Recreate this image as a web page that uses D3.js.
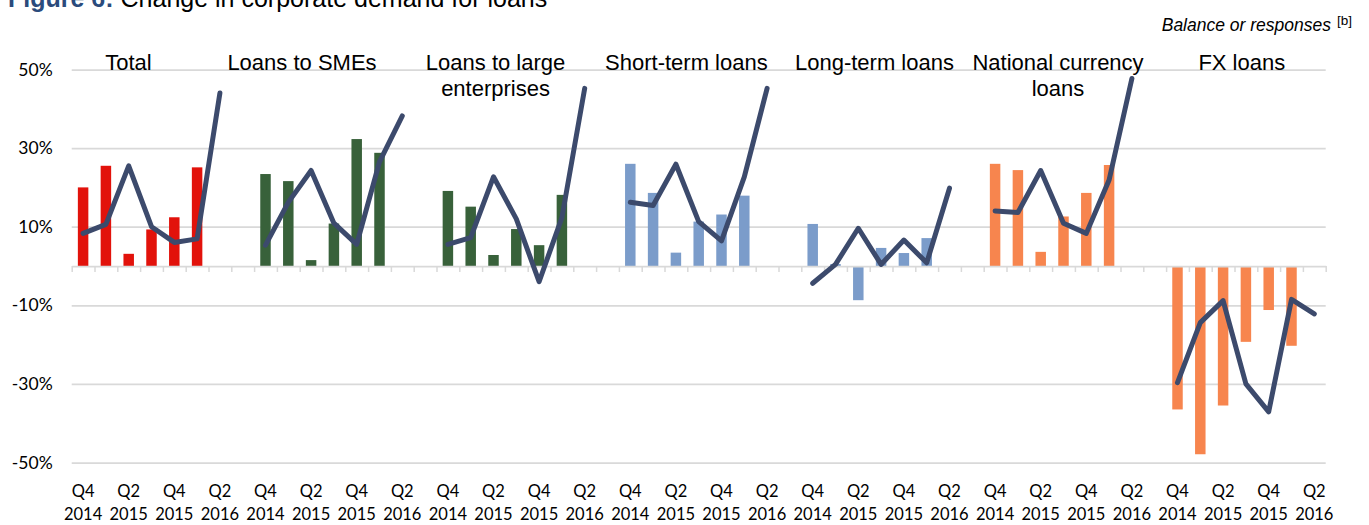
<!DOCTYPE html>
<html><head><meta charset="utf-8">
<script src="https://cdn.jsdelivr.net/npm/d3@7"></script>
<style>body{margin:0;background:#fff;} svg{display:block}</style>
</head><body>
<svg id="c" width="1369" height="525"></svg>
<script>
// ---------- data ----------
const groupTitles = [["Total"],["Loans to SMEs"],["Loans to large","enterprises"],["Short-term loans"],["Long-term loans"],["National currency","loans"],["FX loans"]];
const quarters = ["Q4 2014","Q1 2015","Q2 2015","Q3 2015","Q4 2015","Q1 2016","Q2 2016"];
const tickLabels = [["Q4","2014"],null,["Q2","2015"],null,["Q4","2015"],null,["Q2","2016"]];
const yTicks = [-50,-30,-10,10,30,50];

// bars: realised (Q4 2014 .. Q1 2016)
const barTotal    = [20, 25.5, 3.1, 9.3, 12.4, 25.1];
const barSMEs     = [23.4, 21.6, 1.5, 10.8, 32.3, 28.8];
const barLarge    = [19.1, 15.1, 2.8, 9.4, 5.3, 18.1];
const barShort    = [26, 18.6, 3.4, 11.3, 13.1, 17.9];
const barLong     = [10.7, 0.5, -8.7, 4.6, 3.3, 7.1];
const barNational = [26, 24.4, 3.6, 12.6, 18.6, 25.7];
const barFX       = [-36.5, -47.9, -35.5, -19.3, -11.2, -20.3];

// lines: expected (Q4 2014 .. Q2 2016)
const lineTotal    = [8.3, 10.6, 25.5, 10, 6.0, 6.9, 44];
const lineSMEs     = [5.3, 16.2, 24.3, 10.9, 5.5, 26.5, 38.2];
const lineLarge    = [5.5, 7.2, 22.7, 12, -4, 12.3, 45.2];
const lineShort    = [16.2, 15.4, 25.9, 11.3, 6.4, 22.7, 45.2];
const lineLong     = [-4.4, 0.4, 9.6, 0.4, 6.6, 0.8, 19.8];
const lineNational = [14, 13.6, 24.3, 10.9, 8.3, 21.9, 47.7];
const lineFX       = [-29.7, -14.4, -8.8, -30, -37.1, -8.5, -12.2];

const bars  = [barTotal, barSMEs, barLarge, barShort, barLong, barNational, barFX];
const lines = [lineTotal, lineSMEs, lineLarge, lineShort, lineLong, lineNational, lineFX];
const barColors = ["#e2120b","#38613a","#38613a","#7b9cca","#7b9cca","#f7854e","#f7854e"];

// layout (not data): title centres in slot units
const titleSlotPos = [2.49, 10.1, 18.59, 26.96, 35.21, 43.26, 51.32];

// ---------- chart ----------
const svg = d3.select("#c");
const L = 71.7, R = 1325.7;
const slotsPerGroup = 8, nSlots = 55;
const x = d3.scaleBand().domain(d3.range(nSlots)).range([L, R]).padding(0);
const xl = d3.scaleLinear().domain([0, nSlots]).range([L, R]);
const y = d3.scaleLinear().domain([-50, 50]).range([462.5, 69.5]);
const bw = x.bandwidth();
const barW = bw * 0.46;
const cx = s => x(s) + bw / 2;

// title (cut at the top edge, as in the reference)
const t = svg.append("text").attr("x", 8).attr("y", 7)
  .style("font-family", "'Liberation Sans', Arial, sans-serif").style("font-size", "25px");
t.append("tspan").text("Figure 6:").style("font-weight", "bold").attr("fill", "#2b4b7c");
t.append("tspan").text(" Change in corporate demand for loans").attr("fill", "#000");

// subtitle
svg.append("text").attr("x", 1331).attr("y", 31).attr("text-anchor", "end")
  .style("font-family", "'Liberation Sans', Arial, sans-serif").style("font-size", "17.5px")
  .style("font-style", "italic").text("Balance or responses");
svg.append("text").attr("x", 1337).attr("y", 25)
  .style("font-family", "'Liberation Sans', Arial, sans-serif").style("font-size", "13.5px")
  .text("[b]");

// gridlines + y labels
const yAxis = d3.axisLeft(y).tickValues(yTicks).tickSize(-(R - L)).tickPadding(19)
  .tickFormat(d => d + "%");
const gy = svg.append("g").attr("transform", `translate(${L},0)`).call(yAxis);
gy.select(".domain").remove();
gy.selectAll(".tick line").attr("stroke", "#d9d9d9").attr("stroke-width", 1.75);
gy.selectAll(".tick text").style("font-family", "Lato, 'Open Sans', sans-serif")
  .style("font-size", "17.5px").attr("fill", "#000");

// bars
bars.forEach((vals, g) => {
  svg.append("g").selectAll("rect").data(vals).join("rect")
    .attr("x", (v, q) => cx(g * slotsPerGroup + q) - barW / 2)
    .attr("width", barW)
    .attr("y", v => y(Math.max(0, v)))
    .attr("height", v => Math.abs(y(v) - y(0)))
    .attr("fill", barColors[g]);
});

// zero axis with ticks at slot boundaries
const zAxis = d3.axisBottom(xl).tickValues(d3.range(nSlots + 1)).tickSize(6).tickSizeOuter(0).tickFormat("");
const gz = svg.append("g").attr("transform", `translate(0,${y(0)})`).call(zAxis);
gz.select(".domain").attr("stroke", "#d9d9d9").attr("stroke-width", 1.75);
gz.selectAll(".tick line").attr("stroke", "#d9d9d9").attr("stroke-width", 1.5);

// lines
const lineGen = d3.line().x(d => cx(d.s)).y(d => y(d.v));
lines.forEach((vals, g) => {
  svg.append("path")
    .datum(vals.map((v, q) => ({ s: g * slotsPerGroup + q, v })))
    .attr("d", lineGen).attr("fill", "none")
    .attr("stroke", "#3c4a6c").attr("stroke-width", 5)
    .attr("stroke-linejoin", "round").attr("stroke-linecap", "round");
});

// x labels
const xl2 = svg.append("g").style("font-family", "Lato, 'Open Sans', sans-serif").style("font-size", "16.5px");
groupTitles.forEach((_, g) => {
  tickLabels.forEach((lab, q) => {
    if (!lab) return;
    const tx = xl2.append("text").attr("text-anchor", "middle").attr("fill", "#000");
    tx.append("tspan").attr("x", cx(g * slotsPerGroup + q)).attr("y", 497).text(lab[0]);
    tx.append("tspan").attr("x", cx(g * slotsPerGroup + q)).attr("y", 520).text(lab[1]);
  });
});

// group titles
const gt = svg.append("g").style("font-family", "'Liberation Sans', Arial, sans-serif").style("font-size", "22px");
groupTitles.forEach((lines2, g) => {
  lines2.forEach((ln, i) => {
    gt.append("text").attr("x", xl(titleSlotPos[g])).attr("y", 70 + i * 25.5)
      .attr("text-anchor", "middle").attr("fill", "#000").text(ln);
  });
});
</script>
</body></html>
